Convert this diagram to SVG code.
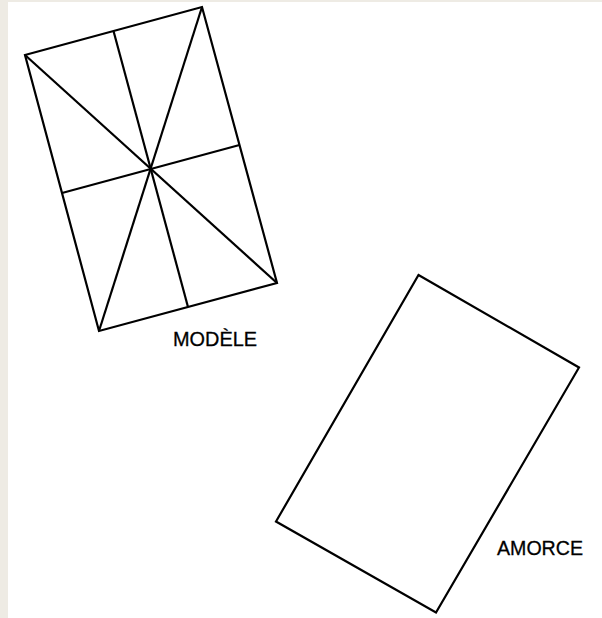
<svg xmlns="http://www.w3.org/2000/svg" width="602" height="618" viewBox="0 0 602 618">
<style>
.ln{stroke:#000;stroke-width:2.2;fill:none;stroke-linejoin:miter}
.lbl{font-family:"Liberation Sans",Arial,sans-serif;font-size:20px;fill:#000;stroke:#000;stroke-width:0.3}
</style>
<rect x="0" y="0" width="602" height="618" fill="#EEEBE4"/>
<rect x="8" y="2" width="594" height="616" fill="#FFFFFF"/>
<g id="modele">
<polygon class="ln" points="25,55 202,7 277,283 99,331"/>
<line class="ln" x1="25" y1="55" x2="277" y2="283"/>
<line class="ln" x1="202" y1="7" x2="99" y2="331"/>
<line class="ln" x1="113.5" y1="31" x2="188" y2="307"/>
<line class="ln" x1="62" y1="193" x2="239.5" y2="145"/>
<text class="lbl" x="173" y="346" textLength="84" lengthAdjust="spacingAndGlyphs">MODÈLE</text>
</g>
<g id="amorce">
<polygon class="ln" points="418.5,275 579,367.5 436,612.5 276,521.5"/>
<text class="lbl" x="497" y="555" textLength="86" lengthAdjust="spacingAndGlyphs">AMORCE</text>
</g>
<g id="connectors"></g>
</svg>
